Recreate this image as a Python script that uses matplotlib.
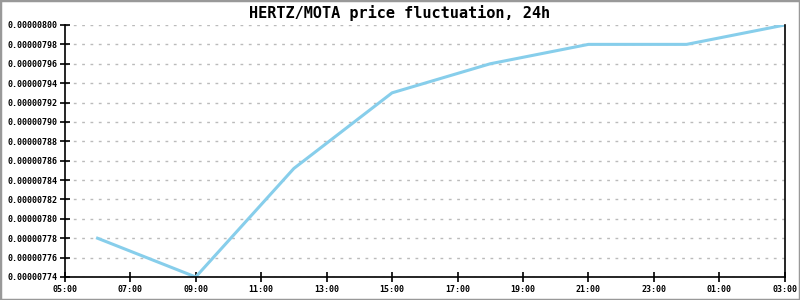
import matplotlib
matplotlib.use("Agg")
import matplotlib.pyplot as plt
import matplotlib.dates as mdates
import matplotlib.ticker as mticker
from matplotlib.patches import Rectangle
import pandas as pd

# data
times = ["2024-01-01 06:00", "2024-01-01 09:00", "2024-01-01 12:00", "2024-01-01 15:00",
         "2024-01-01 18:00", "2024-01-01 21:00", "2024-01-02 00:00", "2024-01-02 03:00"]
prices = [0.00000778, 0.00000774, 0.000007852, 0.00000793,
          0.00000796, 0.00000798, 0.00000798, 0.00000800]
title = "HERTZ/MOTA price fluctuation, 24h"

x = pd.to_datetime(times)

plt.rcParams['font.family'] = ['DejaVu Sans Mono']

fig = plt.figure(figsize=(8, 3), dpi=100)
ax = fig.add_axes([0.081, 0.0767, 0.9, 0.84])

ax.plot(x, prices, color='#87ceeb', linewidth=2.2)

ax.set_xlim(pd.Timestamp("2024-01-01 05:00"), pd.Timestamp("2024-01-02 03:00"))
ax.set_ylim(0.00000774, 0.00000800)

ax.xaxis.set_major_locator(mdates.HourLocator(byhour=range(1, 24, 2)))
ax.xaxis.set_major_formatter(mdates.DateFormatter('%H:%M'))
ax.yaxis.set_major_locator(mticker.MultipleLocator(0.00000002))
ax.yaxis.set_major_formatter(mticker.FormatStrFormatter('%.8f'))

ax.tick_params(axis='both', direction='inout', length=7, width=1.2, labelsize=6, pad=2)
for lab in ax.get_xticklabels() + ax.get_yticklabels():
    lab.set_fontweight('bold')

ax.grid(axis='y', color='#bbbbbb', linestyle=(0, (2, 4)), linewidth=1)
ax.spines['top'].set_visible(False)
for s in ['left', 'bottom', 'right']:
    ax.spines[s].set_linewidth(1.2)

fig.text(0.5, 0.957, title, ha='center', va='center', fontsize=11, fontweight='bold')

fig.patches.append(Rectangle((0, 0), 1, 1, transform=fig.transFigure, fill=False,
                             edgecolor='#999999', linewidth=2.5))

fig.savefig('out.png', dpi=100)
